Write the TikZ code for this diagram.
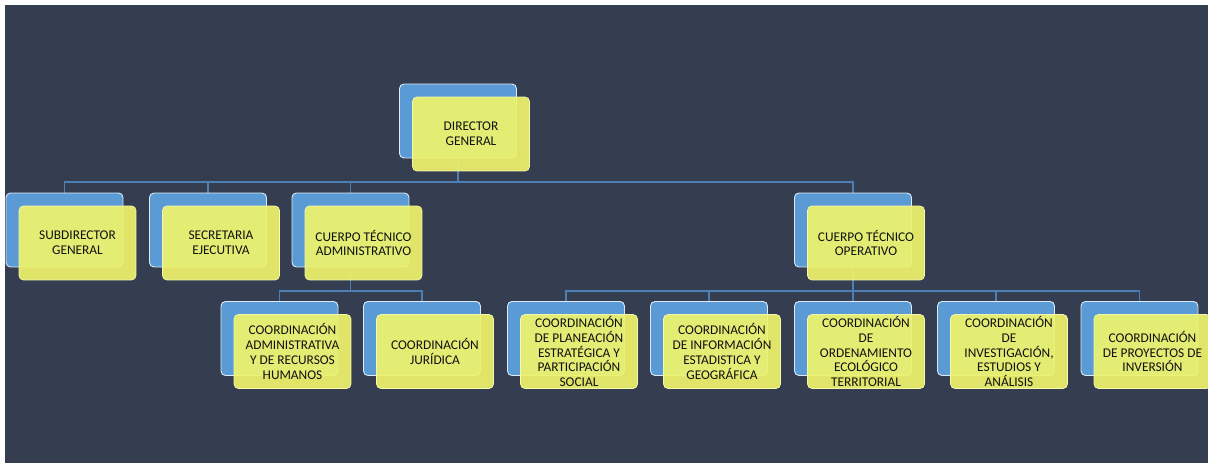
\documentclass[tikz,border=0pt]{standalone}
\usepackage{fontspec}
\setmainfont{Carlito}
\usetikzlibrary{backgrounds}
\definecolor{orgBack}{HTML}{343E50}
\definecolor{orgBlue}{HTML}{5B9BD5}
\definecolor{orgYellow}{HTML}{EFF36B}
\definecolor{orgLine}{HTML}{4E7FB4}
\definecolor{orgText}{HTML}{111111}
% blue card behind, yellow card in front
\newcommand{\orgbox}[3]{%
  \node[backbox] (#1) at (#2) {};
  \node[frontbox] (#1-f) at ([shift={(13,13)}]#1) {#3};
}

\begin{document}
\begin{tikzpicture}[
  x=0.02cm, y=-0.02cm,
  backbox/.style={rectangle, rounded corners=2.5pt, fill=orgBlue, draw=white!80!orgBlue,
    line width=0.5pt, minimum width=2.34cm, minimum height=1.48cm, inner sep=0pt},
  frontbox/.style={rectangle, rounded corners=2.5pt, fill=orgYellow, fill opacity=0.92,
    text opacity=1, draw=orgYellow!55!white, line width=0.4pt, minimum width=2.34cm,
    minimum height=1.48cm, inner sep=0pt, align=center, text=orgText,
    font=\fontsize{7.6}{8.4}\selectfont},
  link/.style={draw=orgLine, line width=0.6pt}
]
  \useasboundingbox (0,0) rectangle (1208,463);

  \orgbox{dir}{458,121}{DIRECTOR\\GENERAL}

  \orgbox{sub}{64.5,230}{SUBDIRECTOR\\GENERAL}
  \orgbox{sec}{208,230}{SECRETARIA\\EJECUTIVA}
  \orgbox{adm}{350.5,230}{CUERPO TÉCNICO\\ADMINISTRATIVO}
  \orgbox{ope}{853,230}{CUERPO TÉCNICO\\OPERATIVO}

  \orgbox{coad}{279.5,338.5}{COORDINACIÓN\\ADMINISTRATIVA\\Y DE RECURSOS\\HUMANOS}
  \orgbox{jur}{422,338.5}{COORDINACIÓN\\JURÍDICA}
  \orgbox{pla}{566,338.5}{COORDINACIÓN\\DE PLANEACIÓN\\ESTRATÉGICA Y\\PARTICIPACIÓN\\SOCIAL}
  \orgbox{inf}{709,338.5}{COORDINACIÓN\\DE INFORMACIÓN\\ESTADISTICA Y\\GEOGRÁFICA}
  \orgbox{ord}{853,338.5}{COORDINACIÓN\\DE\\ORDENAMIENTO\\ECOLÓGICO\\TERRITORIAL}
  \orgbox{inv}{996,338.5}{COORDINACIÓN\\DE\\INVESTIGACIÓN,\\ESTUDIOS Y\\ANÁLISIS}
  \orgbox{pro}{1139.5,338.5}{COORDINACIÓN\\DE PROYECTOS DE\\INVERSIÓN}

  \coordinate (topbus) at (0,182);
  \coordinate (lowbus) at (0,291);

  \begin{scope}[on background layer]
    \fill[white] (0,0) rectangle (1208,463);
    \fill[orgBack] (5,5) rectangle (1208,463);
    \foreach \child in {sub, sec, adm, ope}
      \draw[link] (dir) -- (dir |- topbus) -| (\child);
    \foreach \child in {coad, jur}
      \draw[link] (adm) -- (adm |- lowbus) -| (\child);
    \foreach \child in {pla, inf, ord, inv, pro}
      \draw[link] (ope) -- (ope |- lowbus) -| (\child);
  \end{scope}
\end{tikzpicture}
\end{document}
